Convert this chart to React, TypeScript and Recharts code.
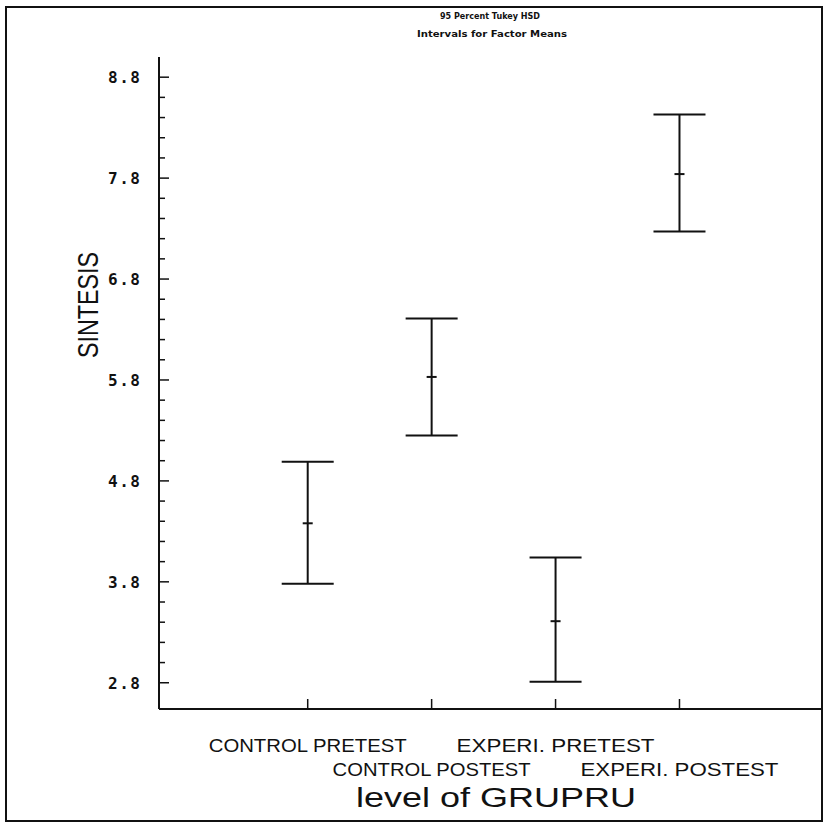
import { ComposedChart, Scatter, ErrorBar, XAxis, YAxis, Label } from "recharts"

// 95% Tukey HSD intervals
const groups = ["CONTROL PRETEST", "CONTROL POSTEST", "EXPERI. PRETEST", "EXPERI. POSTEST"]
const groupPos = [1, 2, 3, 4]
const means = [4.38, 5.83, 3.41, 7.84]
const lower = [3.78, 5.25, 2.81, 7.27]
const upper = [4.99, 6.41, 4.04, 8.43]

const yMajor = [2.8, 3.8, 4.8, 5.8, 6.8, 7.8, 8.8]
const yLabels = ["2.8", "3.8", "4.8", "5.8", "6.8", "7.8", "8.8"]

const data = groups.map((g, i) => ({
  name: g,
  x: groupPos[i],
  y: means[i],
  err: [means[i] - lower[i], upper[i] - means[i]],
}))

// minor ticks every 0.2 between the labelled ones
const yTicks: number[] = []
yMajor.forEach((m, i) => {
  yTicks.push(m)
  if (i < yMajor.length - 1) {
    for (let k = 1; k < 5; k++) yTicks.push(Math.round((m + k * 0.2) * 10) / 10)
  }
})

const INK = "#111"

function YTick(props: any) {
  const { x, y, payload } = props
  const i = yMajor.findIndex((m) => Math.abs(m - payload.value) < 1e-6)
  if (i < 0) {
    return <line x1={x} x2={x + 6} y1={y} y2={y} stroke={INK} strokeWidth={1.5} />
  }
  return (
    <g>
      <line x1={x} x2={x + 10} y1={y} y2={y} stroke={INK} strokeWidth={1.5} />
      <text
        x={x - 19}
        y={y}
        dy={6}
        textAnchor="end"
        fontFamily="DejaVu Sans Mono"
        fontWeight="bold"
        fontSize={16}
        fill={INK}
        textLength={32}
        lengthAdjust="spacing"
      >
        {yLabels[i]}
      </text>
    </g>
  )
}

function XTick(props: any) {
  const { x, y, payload } = props
  const i = groupPos.indexOf(payload.value)
  const row = i % 2 === 0 ? 43 : 67
  return (
    <g>
      <line x1={x} x2={x} y1={y} y2={y - 10} stroke={INK} strokeWidth={1.5} />
      <text
        x={x}
        y={y + row}
        textAnchor="middle"
        fontFamily="Liberation Sans"
        fontSize={19}
        fill={INK}
        textLength={198}
        lengthAdjust="spacingAndGlyphs"
      >
        {groups[i]}
      </text>
    </g>
  )
}

function MeanMark(props: any) {
  const { cx, cy } = props
  return <line x1={cx - 5} x2={cx + 5} y1={cy} y2={cy} stroke={INK} strokeWidth={2} />
}

export default function App() {
  return (
    <div style={{ position: "fixed", left: 0, top: 0, width: 825, height: 825, background: "#fff" }}>
      <ComposedChart
        width={825}
        height={825}
        data={data}
        margin={{ top: 57, right: 3, bottom: 86, left: 99 }}
      >
        <XAxis
          type="number"
          dataKey="x"
          domain={[-0.2, 5.15]}
          allowDataOverflow
          ticks={groupPos}
          interval={0}
          tick={<XTick />}
          tickSize={0}
          tickMargin={0}
          tickLine={false}
          height={30}
          axisLine={{ stroke: INK, strokeWidth: 2 }}
        >
          <Label
            content={() => (
              <text
                x={496}
                y={807}
                textAnchor="middle"
                fontFamily="Liberation Sans"
                fontSize={27}
                fill={INK}
                textLength={280}
                lengthAdjust="spacingAndGlyphs"
              >
                level of GRUPRU
              </text>
            )}
          />
        </XAxis>
        <YAxis
          type="number"
          dataKey="y"
          domain={[2.54, 9.0]}
          allowDataOverflow
          ticks={yTicks}
          interval={0}
          tick={<YTick />}
          tickSize={0}
          tickMargin={0}
          tickLine={false}
          width={60}
          axisLine={{ stroke: INK, strokeWidth: 2 }}
        >
          <Label
            content={() => (
              <text
                x={88}
                y={305}
                transform="rotate(-90, 88, 305)"
                textAnchor="middle"
                dominantBaseline="central"
                fontFamily="Liberation Sans"
                fontSize={29}
                fill={INK}
                textLength={106}
                lengthAdjust="spacingAndGlyphs"
              >
                SINTESIS
              </text>
            )}
          />
        </YAxis>
        <Scatter dataKey="y" fill={INK} shape={<MeanMark />} isAnimationActive={false}>
          <ErrorBar dataKey="err" direction="y" width={26} stroke={INK} strokeWidth={2} />
        </Scatter>
      </ComposedChart>
      <div
        style={{
          position: "absolute",
          left: 5,
          top: 6,
          width: 814,
          height: 812,
          border: `2px solid ${INK}`,
          pointerEvents: "none",
        }}
      />
      <svg
        width={825}
        height={60}
        style={{ position: "absolute", left: 0, top: 0, pointerEvents: "none" }}
      >
        <text
          x={490}
          y={19}
          textAnchor="middle"
          fontFamily="DejaVu Sans"
          fontWeight="bold"
          fontSize={8}
          fill={INK}
          textLength={100}
          lengthAdjust="spacingAndGlyphs"
        >
          95 Percent Tukey HSD
        </text>
        <text
          x={492}
          y={37}
          textAnchor="middle"
          fontFamily="DejaVu Sans"
          fontWeight="bold"
          fontSize={8}
          fill={INK}
          textLength={150}
          lengthAdjust="spacingAndGlyphs"
        >
          Intervals for Factor Means
        </text>
      </svg>
    </div>
  )
}
